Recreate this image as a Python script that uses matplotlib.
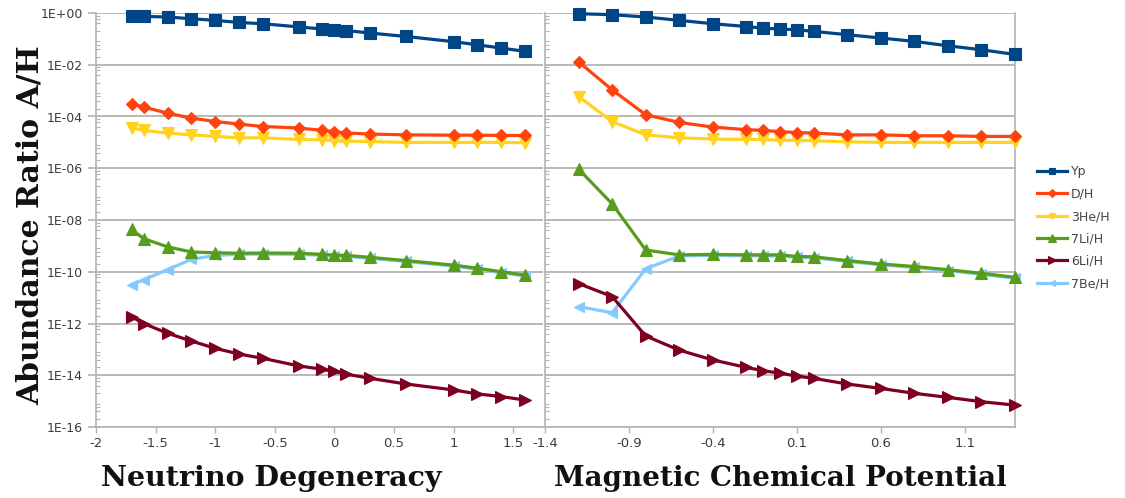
import matplotlib
matplotlib.use("Agg")
import matplotlib.pyplot as plt
from matplotlib.ticker import FixedLocator, LogLocator, NullFormatter

# ---------------- data ----------------
series_names = ["Yp", "D/H", "3He/H", "7Li/H", "6Li/H", "7Be/H"]

nu = [-1.7, -1.6, -1.4, -1.2, -1.0, -0.8, -0.6, -0.3, -0.1, 0.0, 0.1, 0.3, 0.6, 1.0, 1.2, 1.4, 1.6]
nu_Yp = [0.79, 0.74, 0.70, 0.60, 0.52, 0.43, 0.385, 0.29, 0.24, 0.226, 0.21, 0.168, 0.124, 0.078, 0.059, 0.044, 0.033]
nu_DH = [3.1e-4, 2.3e-4, 1.35e-4, 8.7e-5, 6.4e-5, 5.1e-5, 4.1e-5, 3.6e-5, 2.9e-5, 2.6e-5, 2.3e-5, 2.1e-5, 1.95e-5, 1.9e-5, 1.9e-5, 1.85e-5, 1.85e-5]
nu_He3 = [3.6e-5, 2.9e-5, 2.3e-5, 1.95e-5, 1.7e-5, 1.5e-5, 1.5e-5, 1.3e-5, 1.25e-5, 1.15e-5, 1.12e-5, 1.08e-5, 1.0e-5, 1.0e-5, 1.0e-5, 1.0e-5, 9.6e-6]
nu_Li7 = [4.3e-9, 1.9e-9, 9.2e-10, 5.8e-10, 5.4e-10, 5.2e-10, 5.3e-10, 5.2e-10, 4.7e-10, 4.4e-10, 4.3e-10, 3.6e-10, 2.7e-10, 1.8e-10, 1.37e-10, 1.0e-10, 7.4e-11]
nu_Li6 = [1.8e-12, 1.0e-12, 4.2e-13, 2.1e-13, 1.1e-13, 6.6e-14, 4.5e-14, 2.3e-14, 1.7e-14, 1.4e-14, 1.1e-14, 7.6e-15, 4.6e-15, 2.7e-15, 1.9e-15, 1.5e-15, 1.1e-15]
nu_Be7 = [3.1e-11, 4.9e-11, 1.2e-10, 3.0e-10, 4.3e-10, 4.7e-10, 4.8e-10, 4.7e-10, 4.3e-10, 4.0e-10, 3.9e-10, 3.3e-10, 2.5e-10, 1.65e-10, 1.25e-10, 9.2e-11, 6.8e-11]

mu = [-1.2, -1.0, -0.8, -0.6, -0.4, -0.2, -0.1, 0.0, 0.1, 0.2, 0.4, 0.6, 0.8, 1.0, 1.2, 1.4]
mu_Yp = [0.94, 0.86, 0.70, 0.52, 0.385, 0.30, 0.26, 0.24, 0.226, 0.195, 0.145, 0.108, 0.08, 0.054, 0.038, 0.025]
mu_DH = [1.3e-2, 1.07e-3, 1.17e-4, 5.9e-5, 3.9e-5, 3.1e-5, 2.9e-5, 2.6e-5, 2.4e-5, 2.3e-5, 1.95e-5, 1.95e-5, 1.8e-5, 1.8e-5, 1.7e-5, 1.7e-5]
mu_He3 = [5.9e-4, 6.4e-5, 1.95e-5, 1.5e-5, 1.35e-5, 1.3e-5, 1.3e-5, 1.2e-5, 1.2e-5, 1.15e-5, 1.05e-5, 1.0e-5, 1.0e-5, 1.0e-5, 1.0e-5, 1.0e-5]
mu_Li7 = [9.3e-7, 4.2e-8, 6.9e-10, 4.5e-10, 4.7e-10, 4.5e-10, 4.5e-10, 4.5e-10, 3.9e-10, 3.8e-10, 2.7e-10, 2.0e-10, 1.6e-10, 1.2e-10, 8.7e-11, 6.1e-11]
mu_Li6 = [3.5e-11, 1.1e-11, 3.3e-13, 9.3e-14, 3.9e-14, 2.0e-14, 1.5e-14, 1.2e-14, 9.3e-15, 7.6e-15, 4.6e-15, 3.1e-15, 2.0e-15, 1.4e-15, 9.5e-16, 7.0e-16]
mu_Be7 = [4.5e-12, 2.6e-12, 1.3e-10, 4.1e-10, 4.3e-10, 4.1e-10, 4.1e-10, 4.1e-10, 3.6e-10, 3.5e-10, 2.5e-10, 1.85e-10, 1.47e-10, 1.1e-10, 8.0e-11, 5.6e-11]

y_tick_values = [1e0, 1e-2, 1e-4, 1e-6, 1e-8, 1e-10, 1e-12, 1e-14, 1e-16]
y_tick_labels = ["1E+00", "1E-02", "1E-04", "1E-06", "1E-08", "1E-10", "1E-12", "1E-14", "1E-16"]
nu_ticks = [-2, -1.5, -1, -0.5, 0, 0.5, 1, 1.5]
nu_tick_labels = ["-2", "-1.5", "-1", "-0.5", "0", "0.5", "1", "1.5"]
mu_ticks = [-1.4, -0.9, -0.4, 0.1, 0.6, 1.1]
mu_tick_labels = ["-1.4", "-0.9", "-0.4", "0.1", "0.6", "1.1"]

# ---------------- style ----------------
colors = ["#004586", "#ff420e", "#ffd320", "#579d1c", "#7e0021", "#83caff"]
markers = ["s", "D", "v", "^", ">", "<"]
msizes = [8, 6.5, 8, 8.5, 8.5, 6.5]
zorders = [6, 5, 4, 4.5, 5.5, 3]
grid_col = "#b3b3b3"
tick_col = "#3c3c3c"

W, H = 1125, 498
fig = plt.figure(figsize=(W / 100, H / 100), dpi=100)

top_px, bot_px = 13, 427


def add_axes(x0, x1):
    return fig.add_axes([x0 / W, 1 - bot_px / H, (x1 - x0) / W, (bot_px - top_px) / H])


axL = add_axes(96, 543)
axR = add_axes(545, 1015)

left_data = [nu_Yp, nu_DH, nu_He3, nu_Li7, nu_Li6, nu_Be7]
right_data = [mu_Yp, mu_DH, mu_He3, mu_Li7, mu_Li6, mu_Be7]

handles = []
for ax, xs, data in [(axL, nu, left_data), (axR, mu, right_data)]:
    for i, ys in enumerate(data):
        h, = ax.plot(xs, ys, color=colors[i], marker=markers[i], markersize=msizes[i],
                     linewidth=2.3, markeredgewidth=0.8, markeredgecolor=colors[i],
                     zorder=zorders[i], label=series_names[i], clip_on=False)
        if ax is axL:
            handles.append(h)
    ax.set_yscale("log")
    ax.set_ylim(1e-16, 1e0)
    ax.yaxis.set_major_locator(FixedLocator(y_tick_values))
    ax.yaxis.set_minor_locator(LogLocator(base=10, subs=[2, 4, 6, 8], numticks=40))
    ax.yaxis.set_minor_formatter(NullFormatter())
    ax.grid(True, axis="y", which="major", color=grid_col, linewidth=1.3, zorder=0)
    ax.set_axisbelow(True)
    for s in ax.spines.values():
        s.set_color(grid_col)
        s.set_linewidth(1.2)
    ax.spines["top"].set_visible(False)
    ax.tick_params(axis="y", which="major", length=6, color=grid_col, direction="out", width=1.2)
    ax.tick_params(axis="y", which="minor", length=3, color=grid_col, direction="in", width=0.8)
    ax.tick_params(axis="x", which="major", length=4, color=grid_col, direction="out", width=1.0,
                   labelsize=9.5, labelcolor=tick_col, pad=3)

axL.set_xlim(-2, 1.75)
axL.set_xticks(nu_ticks)
axL.set_xticklabels(nu_tick_labels)
axL.set_yticks(y_tick_values)
axL.set_yticklabels(y_tick_labels, fontsize=9, color=tick_col)
axL.spines["right"].set_visible(False)

axR.set_xlim(-1.4, 1.4)
axR.set_xticks(mu_ticks)
axR.set_xticklabels(mu_tick_labels)
axR.set_yticks(y_tick_values)
axR.set_yticklabels([])
axR.tick_params(axis="y", which="major", length=0)

# axis titles
label_font = dict(family="DejaVu Serif", weight="bold", color="#111111")
fig.text(30 / W, 1 - 225 / H, "Abundance Ratio A/H", rotation=90, ha="center", va="center",
         fontsize=21.5, **label_font)
fig.text(271 / W, 1 - 478 / H, "Neutrino Degeneracy", ha="center", va="center", fontsize=20.5, **label_font)
fig.text(780 / W, 1 - 478 / H, "Magnetic Chemical Potential", ha="center", va="center", fontsize=20, **label_font)

# legend
fig.legend(handles=handles, labels=series_names, loc="upper left",
           bbox_to_anchor=(1026 / W, 1 - 154 / H), frameon=False,
           fontsize=9, labelcolor="#444444", handlelength=2.4, handletextpad=0.3,
           labelspacing=0.75, markerscale=0.6)

fig.savefig("out.png", dpi=100)
